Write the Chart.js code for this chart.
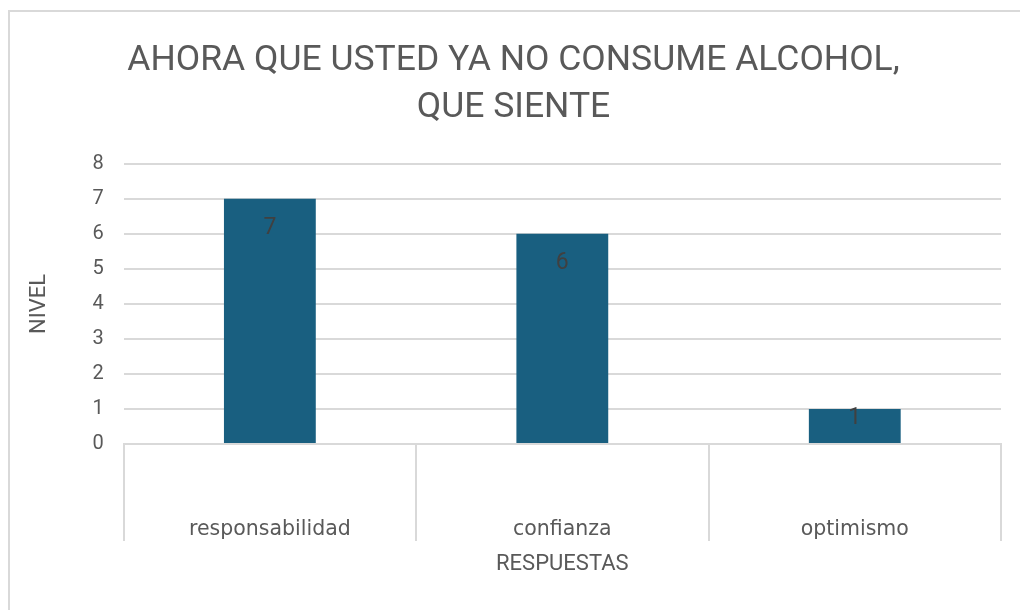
<!DOCTYPE html>
<html>
<head>
<meta charset="utf-8">
<script src="https://cdn.jsdelivr.net/npm/chart.js@4/dist/chart.umd.min.js"></script>
<style>
  html, body { margin: 0; padding: 0; background: #fff; overflow: hidden; }
  #wrap {
    position: absolute; left: 8px; top: 10px;
    width: 1030px; height: 620px;
    border: 2px solid #d9d9d9; background: #fff;
  }
</style>
</head>
<body>
<div id="wrap"><canvas id="chart" width="1030" height="598"></canvas></div>
<script>
// chart data
const categories = ["responsabilidad", "confianza", "optimismo"];
const values = [7, 6, 1];
const yTicks = [0, 1, 2, 3, 4, 5, 6, 7, 8];

const textGray = "#595959";

// draws the value inside the top of each bar
const barValueLabels = {
    id: 'barValueLabels',
    afterDatasetsDraw(chart) {
        const ctx = chart.ctx;
        const meta = chart.getDatasetMeta(0);
        ctx.save();
        ctx.font = '23px Roboto';
        ctx.fillStyle = '#404040';
        ctx.textAlign = 'center';
        ctx.textBaseline = 'middle';
        meta.data.forEach((bar, i) => {
            const off = Math.min(29, bar.height * 0.28);
            ctx.fillText(String(values[i]), bar.x, bar.y + off);
        });
        ctx.restore();
    }
};

new Chart(document.getElementById("chart"), {
    type: 'bar',
    data: {
        labels: categories,
        datasets: [{
            label: "NIVEL",
            data: values,
            backgroundColor: "#195f80",
            categoryPercentage: 1,
            barPercentage: 0.314
        }]
    },
    options: {
        responsive: false,
        animation: false,
        layout: { padding: { top: 16, right: 39, bottom: 32, left: 16 } },
        plugins: {
            legend: { display: false },
            tooltip: { enabled: false },
            title: {
                display: true,
                text: ["AHORA QUE USTED YA NO CONSUME ALCOHOL,", "QUE SIENTE"],
                color: textGray,
                font: { family: 'Roboto', size: 35.5, weight: 'normal', lineHeight: 1.32 },
                padding: { top: 10, bottom: 32 }
            }
        },
        scales: {
            x: {
                grid: {
                    offset: true,
                    drawOnChartArea: false,
                    drawTicks: true,
                    tickLength: 97,
                    color: "#d9d9d9",
                    lineWidth: 2
                },
                border: { display: true, color: "#d9d9d9", width: 2 },
                ticks: {
                    color: textGray,
                    font: { family: 'DejaVu Sans', size: 20.5 },
                    padding: -24
                },
                title: {
                    display: true,
                    text: "RESPUESTAS",
                    color: textGray,
                    font: { family: 'Roboto', size: 22 },
                    padding: { top: 34, bottom: 0 }
                }
            },
            y: {
                min: 0,
                max: 8,
                afterBuildTicks(scale) {
                    scale.ticks = yTicks.map(v => ({ value: v }));
                },
                grid: { color: "#d9d9d9", lineWidth: 2, drawTicks: false },
                border: { display: false },
                ticks: {
                    color: textGray,
                    font: { family: 'Roboto', size: 20 },
                    padding: 20
                },
                title: {
                    display: true,
                    text: "NIVEL",
                    color: textGray,
                    font: { family: 'Roboto', size: 22 },
                    padding: { top: 0, bottom: 20 }
                }
            }
        }
    },
    plugins: [barValueLabels]
});
</script>
</body>
</html>
